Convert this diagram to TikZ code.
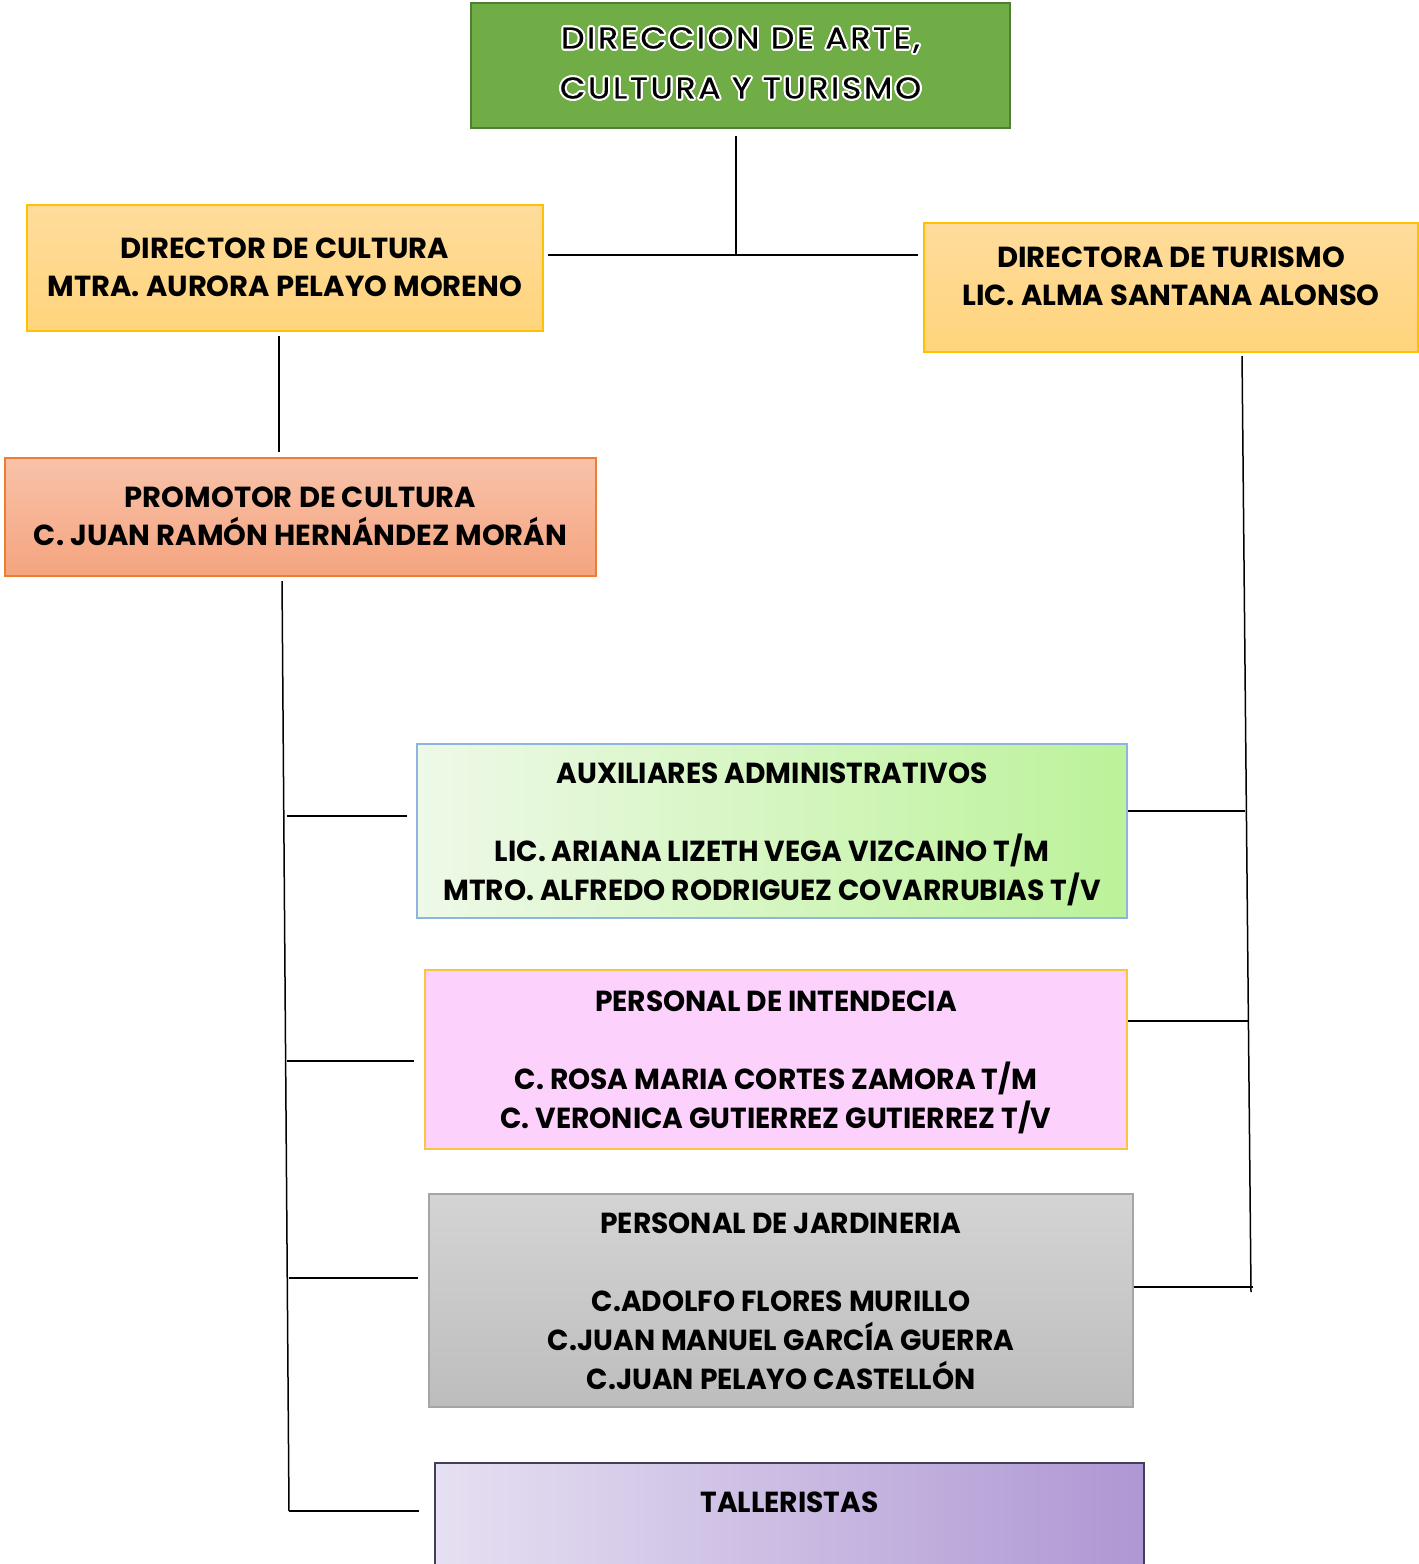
\documentclass[tikz,border=0pt]{standalone}
\usepackage{fontspec}
\setmainfont{Poppins}
\newfontfamily\titlefont[LetterSpace=9,FakeStretch=1.1,FakeBold=0.6]{Poppins}
\newfontfamily\boxfont[FakeStretch=1.0]{Poppins}
\newfontfamily\narrowfont[FakeStretch=0.97]{Poppins}
\usepackage{contour}
\contourlength{1pt}
\usetikzlibrary{fit}

\definecolor{dirgreen}{HTML}{70AD47}
\definecolor{dirborder}{HTML}{507E32}
\definecolor{goldtop}{HTML}{FFDC9C}
\definecolor{goldbot}{HTML}{FFD47C}
\definecolor{goldborder}{HTML}{FFC000}
\definecolor{salmtop}{HTML}{F8C2A9}
\definecolor{salmbot}{HTML}{F5A47F}
\definecolor{salmborder}{HTML}{ED7D31}
\definecolor{auxleft}{HTML}{EEF9E8}
\definecolor{auxright}{HTML}{BCF29A}
\definecolor{auxborder}{HTML}{8FB5DF}
\definecolor{intpink}{HTML}{FCD2FC}
\definecolor{intborder}{HTML}{F9C43F}
\definecolor{jartop}{HTML}{D4D4D4}
\definecolor{jarbot}{HTML}{BDBDBD}
\definecolor{jarborder}{HTML}{A5A5A5}
\definecolor{talleft}{HTML}{E6E0F2}
\definecolor{talright}{HTML}{AF97D3}
\definecolor{talborder}{HTML}{40405A}

\begin{document}
\begin{tikzpicture}[x=0.5pt,y=-0.5pt,
  box/.style={draw,line width=1pt,inner sep=0pt},
  titletext/.style={align=center,font=\titlefont\fontsize{15}{25}\selectfont},
  headtext/.style={align=center,font=\boxfont\bfseries\fontsize{14.5}{19}\selectfont},
  stafftext/.style={align=center,font=\narrowfont\bfseries\fontsize{14.5}{19.5}\selectfont},
  line/.style={line width=0.75pt}]

\useasboundingbox (0,0) rectangle (1419,1564);

% boxes
\node[box,fit={(471,3) (1010,128)},fill=dirgreen,draw=dirborder,
  label={[titletext,yshift=0.75pt]center:{\contour{white}{DIRECCION DE ARTE,}\\\contour{white}{CULTURA Y TURISMO}}}] (dir) {};

\node[box,fit={(27,205) (543,331)},top color=goldtop,bottom color=goldbot,draw=goldborder,
  label={[headtext,yshift=0.5pt]center:{DIRECTOR DE CULTURA\\MTRA. AURORA PELAYO MORENO}}] (cul) {};

\node[box,fit={(924,223) (1418,352)},top color=goldtop,bottom color=goldbot,draw=goldborder,
  label={[headtext,yshift=5.75pt]center:{DIRECTORA DE TURISMO\\LIC. ALMA SANTANA ALONSO}}] (tur) {};

\node[box,fit={(5,458) (596,576)},top color=salmtop,bottom color=salmbot,draw=salmborder,
  label={[headtext,yshift=0.5pt]center:{PROMOTOR DE CULTURA\\C. JUAN RAMÓN HERNÁNDEZ MORÁN}}] (pro) {};

\node[box,fit={(417,744) (1127,918)},left color=auxleft,right color=auxright,draw=auxborder,
  label={[stafftext,yshift=-1.5pt]center:{AUXILIARES ADMINISTRATIVOS\\[19.5pt]LIC. ARIANA LIZETH VEGA VIZCAINO T/M\\MTRO. ALFREDO RODRIGUEZ COVARRUBIAS T/V}}] (aux) {};

\node[box,fit={(425,970) (1127,1149)},fill=intpink,draw=intborder,
  label={[stafftext,yshift=-1.25pt]center:{PERSONAL DE INTENDECIA\\[19.5pt]C. ROSA MARIA CORTES ZAMORA T/M\\C. VERONICA GUTIERREZ GUTIERREZ T/V}}] (int) {};

\node[box,fit={(429,1194) (1133,1407)},top color=jartop,bottom color=jarbot,draw=jarborder,
  label={[stafftext,yshift=-0.5pt]center:{PERSONAL DE JARDINERIA\\[19.5pt]C.ADOLFO FLORES MURILLO\\C.JUAN MANUEL GARCÍA GUERRA\\C.JUAN PELAYO CASTELLÓN}}] (jar) {};

\node[box,fit={(435,1463) (1144,1600)},left color=talleft,right color=talright,draw=talborder,
  label={[stafftext,yshift=14.75pt]center:TALLERISTAS}] (tal) {};

% top connectors
\coordinate (hub) at (736,255);
\draw[line,shorten <=3.5pt] (hub |- dir.south) -- (hub);
\draw[line,shorten <=2pt,shorten >=2.5pt] (cul.east |- hub) -- (tur.west |- hub);
\draw[line,shorten <=2pt,shorten >=2.5pt] ([xshift=-3pt]cul.south) -- ([xshift=-3pt]cul.south |- pro.north);

% left spine
\coordinate (l1) at (287,816);
\coordinate (l2) at (287,1061);
\coordinate (l3) at (289,1278);
\coordinate (l4) at (289,1511);
\draw[line,shorten <=2pt] ([xshift=-9.25pt]pro.south) -- (l4);
\draw[line,shorten >=4.5pt] (l1) -- (aux.west |- l1);
\draw[line,shorten >=5pt] (l2) -- (int.west |- l2);
\draw[line,shorten >=5pt] (l3) -- (jar.west |- l3);
\draw[line,shorten >=7.5pt] (l4) -- (tal.west |- l4);

% right spine
\coordinate (r1) at (1245,811);
\coordinate (r2) at (1248,1021);
\coordinate (r3) at (1253,1287);
\coordinate (rbot) at (1251,1292);
\draw[line,shorten <=1.5pt] ([xshift=35.5pt]tur.south) -- (rbot);
\draw[line] (aux.east |- r1) -- (r1);
\draw[line] (int.east |- r2) -- (r2);
\draw[line] (jar.east |- r3) -- (r3);

\end{tikzpicture}
\end{document}
